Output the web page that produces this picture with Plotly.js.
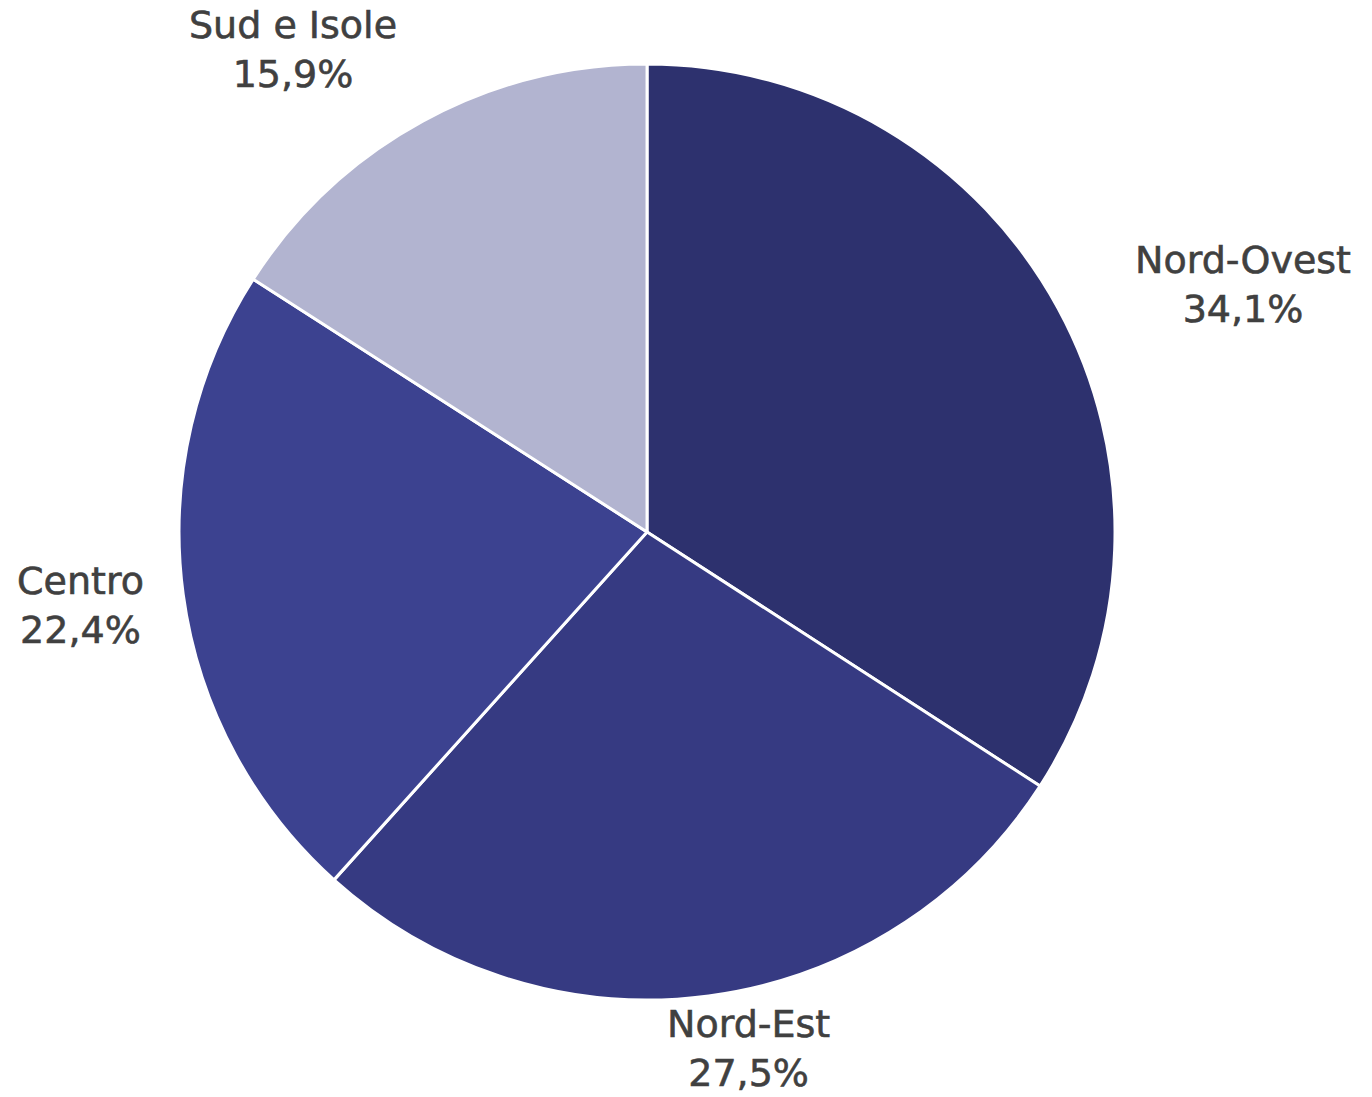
<!DOCTYPE html>
<html>
<head>
<meta charset="utf-8">
<script src="https://cdn.plot.ly/plotly-3.0.1.min.js"></script>
<style>
html,body{margin:0;padding:0;background:#fff;}
#chart{width:1372px;height:1097px;}
.annotation-text{stroke:#404040;stroke-width:0.6px;}
</style>
</head>
<body>
<div id="chart"></div>
<script>
const regions = ["Nord-Ovest", "Nord-Est", "Centro", "Sud e Isole"];
const shares = [34.1, 27.5, 22.4, 15.9];
const colors = ["#2d316e", "#363a82", "#3c4290", "#b2b4d0"];
// label centres in pixels (layout only)
const labelPx = [[1243, 284], [748, 1048], [80, 605], [293, 50]];

const W = 1372, H = 1097;

const trace = {
  type: "pie",
  labels: regions,
  values: shares,
  sort: false,
  direction: "clockwise",
  rotation: 0,
  marker: {colors: colors, line: {color: "#ffffff", width: 3}},
  textinfo: "none",
  hoverinfo: "label+value",
  showlegend: false,
  automargin: false,
  domain: {x: [0.1305, 0.8127], y: [0.0884, 0.9417]}
};

const fmt = v => v.toFixed(1).replace(".", ",") + "%";

const annotations = regions.map((r, i) => ({
  xref: "paper", yref: "paper",
  x: labelPx[i][0] / W, y: 1 - labelPx[i][1] / H,
  xanchor: "center", yanchor: "middle", align: "center",
  showarrow: false, borderpad: 0,
  text: r + "<br>" + fmt(shares[i]),
  font: {family: "DejaVu Sans", size: 38, color: "#404040"}
}));

const layout = {
  width: W, height: H,
  margin: {l: 0, r: 0, t: 0, b: 0},
  paper_bgcolor: "#ffffff",
  separators: ",.",
  showlegend: false,
  annotations: annotations
};

Plotly.newPlot("chart", [trace], layout, {displayModeBar: false, staticPlot: true});
</script>
</body>
</html>
